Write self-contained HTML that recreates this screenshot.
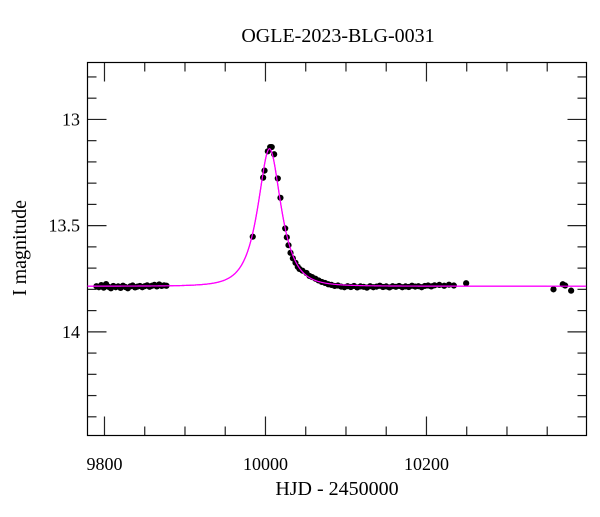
<!DOCTYPE html>
<html><head><meta charset="utf-8"><style>
body{margin:0;background:#fff}
svg text{font-family:"Liberation Serif",serif;fill:#000}
</style></head><body>
<svg id="chart" width="600" height="512" xmlns="http://www.w3.org/2000/svg">
<text x="338" y="42" font-size="20" text-anchor="middle">OGLE-2023-BLG-0031</text>
<text x="337" y="495" font-size="20" text-anchor="middle">HJD - 2450000</text>
<text x="0" y="0" font-size="20" text-anchor="middle" transform="translate(26,248) rotate(-90)">I magnitude</text>
<g id="ticks"></g><g id="model"></g><g id="points"></g>
<rect x="87.5" y="62.5" width="499" height="373" fill="none" stroke="#000" stroke-width="1.2"/>
</svg>
<script>
const xMajorTicks=[9800,10000,10200];
const xMinorTicks=[9800,9850,9900,9950,10000,10050,10100,10150,10200,10250,10300,10350];
const yMajorTicks=[13,13.5,14];
const yMinorTicks=[12.8,12.9,13,13.1,13.2,13.3,13.4,13.5,13.6,13.7,13.8,13.9,14,14.1,14.2,14.3,14.4];
const xTickLabels=["9800","10000","10200"];
const yTickLabels=["13","13.5","14"];
const modelParams={t0:10005,u0:0.63,tE:22,base:13.785};
const obsTimes=[9790,9793,9796,9799,9802,9805,9808,9811,9814,9817,9820,9823,9826,9829,9832,9835,9838,9841,9844,9847,9850,9853,9856,9859,9862,9865,9868,9871,9874,9877,
9984.2,9997.1,9998.8,10002.9,10005.8,10007.8,10010.8,10015.3,10018.6,10024.5,10026.5,10028.6,10031.1,10034,10037.3,10040.1,10042.2,10046,10050.9,10054.7,10058,10062,10066,10070,10074,10078,
10082,10086,10090,10094,10098,10102,10106,10110,10114,10118,10122,10126,10130,10134,10138,10142,10146,10150,10154,10158,10162,10166,10170,10174,10178,10182,10186,10190,10194,10198,10202,10206,10210,10216,10222,10228,10234,10249.3,10357.8,10369.3,10372.3,10379.7];
const obsMags=[13.785,13.79,13.78,13.792,13.775,13.788,13.795,13.784,13.79,13.786,13.793,13.783,13.789,13.795,13.786,13.782,13.791,13.787,13.784,13.79,13.785,13.781,13.788,13.783,13.779,13.786,13.777,13.784,13.781,13.783,
13.552,13.274,13.241,13.15,13.13,13.13,13.164,13.278,13.369,13.513,13.555,13.592,13.628,13.654,13.675,13.694,13.704,13.712,13.723,13.737,13.742,13.75,13.758,13.765,13.77,13.776,
13.779,13.784,13.782,13.787,13.79,13.785,13.789,13.784,13.791,13.786,13.788,13.792,13.785,13.79,13.787,13.783,13.789,13.786,13.791,13.785,13.788,13.784,13.79,13.786,13.789,13.783,13.787,13.785,13.79,13.784,13.782,13.786,13.781,13.779,13.783,13.778,13.782,13.771,13.8,13.776,13.782,13.806];
const X0=9778.9,X1=10398.8,Y0=12.732,Y1=14.488,L=87.5,R=586.5,T=62.5,B=435.5;
function xs(v){return L+(v-X0)/(X1-X0)*(R-L);}
function ys(v){return T+(v-Y0)/(Y1-Y0)*(B-T);}
const NS="http://www.w3.org/2000/svg";
const tg=document.getElementById('ticks');
function ln(x1,y1,x2,y2){const l=document.createElementNS(NS,'line');l.setAttribute('x1',x1);l.setAttribute('y1',y1);l.setAttribute('x2',x2);l.setAttribute('y2',y2);l.setAttribute('stroke','#222');l.setAttribute('stroke-width','1.2');tg.appendChild(l);return l;}
xMinorTicks.forEach(v=>{const x=xs(v);const big=xMajorTicks.includes(v);const len=big?19:9;
 let a=ln(x,B,x,B-len);
 
 
 let b=ln(x,T,x,T+len);
 
 });
yMinorTicks.forEach(v=>{const y=ys(v);const big=yMajorTicks.some(m=>Math.abs(m-v)<1e-6);const len=big?19:9;
 let a=ln(L,y,L+len,y);
 
 
 let b=ln(R,y,R-len,y);
 
 });
xMajorTicks.forEach((v,i)=>{const t=document.createElementNS(NS,'text');t.setAttribute('x',xs(v));t.setAttribute('y',470);t.setAttribute('font-size','18');t.setAttribute('text-anchor','middle');t.textContent=xTickLabels[i];
 
 
 tg.appendChild(t);});
yMajorTicks.forEach((v,i)=>{const t=document.createElementNS(NS,'text');t.setAttribute('x',80);t.setAttribute('y',ys(v)+6);t.setAttribute('font-size','18');t.setAttribute('text-anchor','end');t.textContent=yTickLabels[i];
 
 
 tg.appendChild(t);});
let d='';
for(let t=X0;t<=X1;t+=0.5){const u=Math.sqrt(modelParams.u0**2+((t-modelParams.t0)/modelParams.tE)**2);const A=(u*u+2)/(u*Math.sqrt(u*u+4));const m=modelParams.base-2.5*Math.log10(A);d+=(d?'L':'M')+xs(t).toFixed(2)+','+ys(m).toFixed(2);}
const p=document.createElementNS(NS,'path');p.setAttribute('d',d);p.setAttribute('fill','none');p.setAttribute('stroke','#ff00ff');p.setAttribute('stroke-width','1.2');


document.getElementById('model').appendChild(p);
const pg=document.getElementById('points');
obsTimes.forEach((t,i)=>{const c=document.createElementNS(NS,'circle');c.setAttribute('cx',xs(t));c.setAttribute('cy',ys(obsMags[i]));c.setAttribute('r','3.1');c.setAttribute('fill','#000');
 
 
 pg.appendChild(c);});
pg.parentNode.appendChild(p.cloneNode());
</script>
</body></html>
